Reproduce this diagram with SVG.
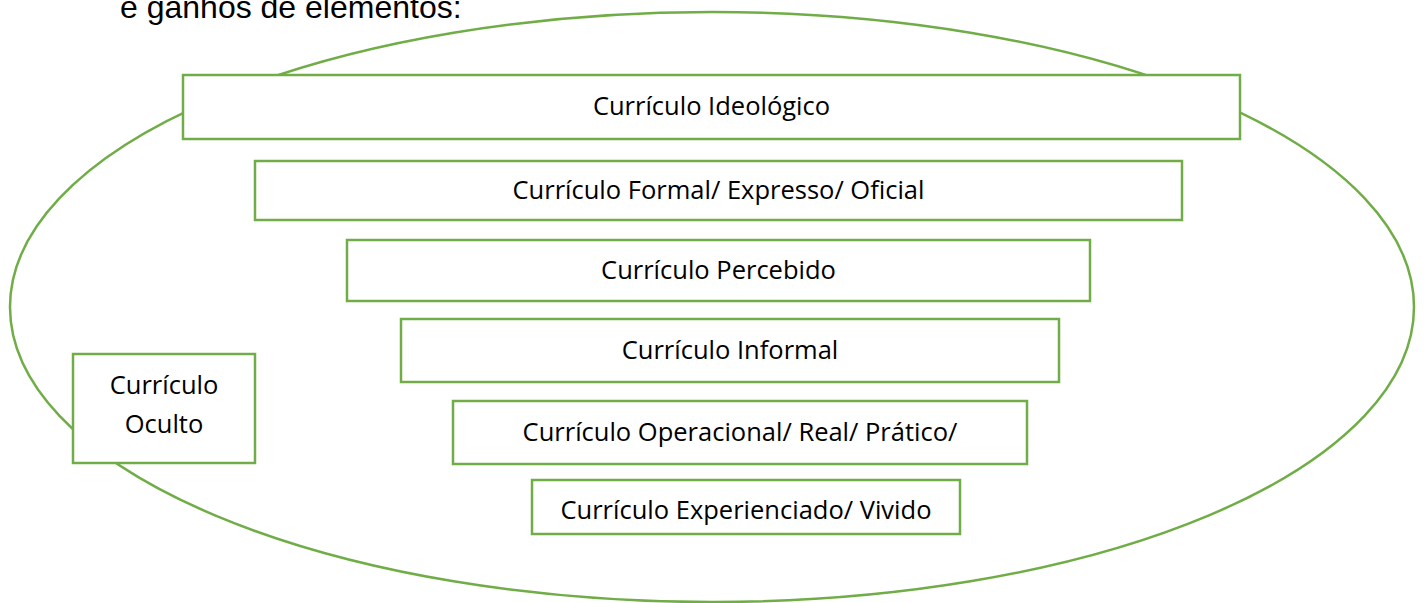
<svg xmlns="http://www.w3.org/2000/svg" width="1424" height="603" viewBox="0 0 1424 603">
  <style>
    .box { fill: #ffffff; stroke: #70AD47; stroke-width: 2.5; }
    .lbl { font-family: "Open Sans", "Noto Sans", sans-serif; font-size: 25.5px; fill: #000000; text-anchor: middle; }
    .head { font-family: "Liberation Sans", Arial, sans-serif; font-size: 32px; fill: #000000; }
  </style>
  <rect x="0" y="0" width="1424" height="603" fill="#ffffff"/>
  <text class="head" x="120" y="18">e ganhos de elementos:</text>
  <g id="connectors">
    <ellipse cx="712" cy="307" rx="702" ry="295" fill="none" stroke="#70AD47" stroke-width="2.5"/>
  </g>
  <g id="ideologico">
    <rect class="box" x="183" y="75" width="1057" height="64"/>
    <text class="lbl" x="711.5" y="115">Currículo Ideológico</text>
  </g>
  <g id="formal">
    <rect class="box" x="255" y="161" width="927" height="59"/>
    <text class="lbl" x="718.5" y="199">Currículo Formal/ Expresso/ Oficial</text>
  </g>
  <g id="percebido">
    <rect class="box" x="347" y="240" width="743" height="61"/>
    <text class="lbl" x="718.5" y="279">Currículo Percebido</text>
  </g>
  <g id="informal">
    <rect class="box" x="401" y="319" width="658" height="63"/>
    <text class="lbl" x="730" y="359">Currículo Informal</text>
  </g>
  <g id="operacional">
    <rect class="box" x="453" y="401" width="574" height="63"/>
    <text class="lbl" x="740" y="441">Currículo Operacional/ Real/ Prático/</text>
  </g>
  <g id="experienciado">
    <rect class="box" x="532" y="480" width="428" height="54"/>
    <text class="lbl" x="746" y="519">Currículo Experienciado/ Vivido</text>
  </g>
  <g id="oculto">
    <rect class="box" x="73" y="354" width="182" height="109"/>
    <text class="lbl" x="164" y="394">Currículo</text>
    <text class="lbl" x="164" y="433">Oculto</text>
  </g>
</svg>
